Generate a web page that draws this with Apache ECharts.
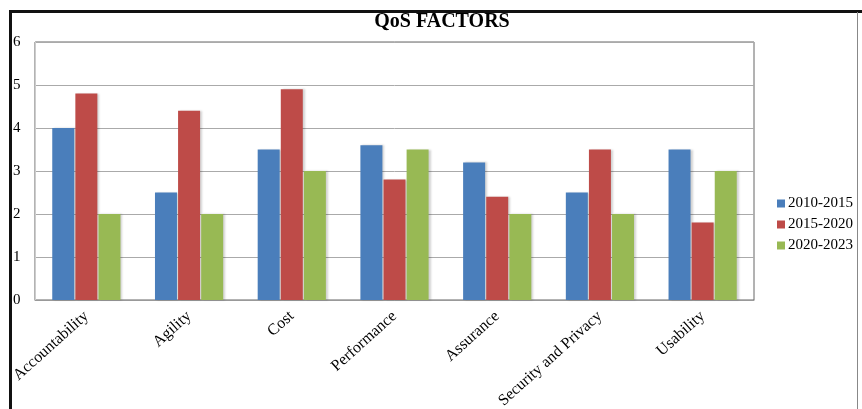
<!DOCTYPE html>
<html>
<head>
<meta charset="utf-8">
<script src="https://cdn.jsdelivr.net/npm/echarts@6/dist/echarts.min.js"></script>
<style>
  html, body { margin: 0; padding: 0; background: #fff; }
  #main { width: 862px; height: 409px; }
</style>
</head>
<body>
<div id="main"></div>
<script>
// 数据
var categories = ['Accountability', 'Agility', 'Cost', 'Performance', 'Assurance', 'Security and Privacy', 'Usability'];
var s2010 = [4, 2.5, 3.5, 3.6, 3.2, 2.5, 3.5];
var s2015 = [4.8, 4.4, 4.9, 2.8, 2.4, 3.5, 1.8];
var s2020 = [2, 2, 3, 3.5, 2, 2, 3];
var seriesNames = ['2010-2015', '2015-2020', '2020-2023'];

var serif = '"Liberation Serif", "DejaVu Serif", serif';
var myChart = echarts.init(document.getElementById('main'));

function bar(name, data) {
  return {
    name: name,
    type: 'bar',
    barWidth: 22,
    barGap: '5%',
    data: data,
    itemStyle: {
      shadowColor: 'rgba(0,0,0,0.18)',
      shadowBlur: 2,
      shadowOffsetX: 2,
      shadowOffsetY: 0
    }
  };
}

myChart.setOption({
  animation: false,
  backgroundColor: '#fff',
  color: ['#4a7ebb', '#be4b48', '#98b954'],
  title: {
    text: 'QoS FACTORS',
    left: 437,
    textAlign: 'center',
    top: 7,
    textStyle: { fontFamily: serif, fontSize: 20, fontWeight: 'bold', color: '#000' }
  },
  legend: {
    orient: 'vertical',
    left: 772,
    top: 191,
    icon: 'rect',
    itemWidth: 8,
    itemHeight: 8,
    itemGap: 6,
    textStyle: { fontFamily: serif, fontSize: 15, color: '#000', padding: [0, 0, 0, -2] },
    data: seriesNames
  },
  grid: {
    left: 35,
    top: 42,
    right: 108,
    bottom: 109,
    outerBoundsMode: 'none',
    containLabel: false,
    show: true,
    borderColor: '#666',
    borderWidth: 1
  },
  xAxis: {
    type: 'category',
    data: categories,
    axisTick: { show: false },
    axisLine: { lineStyle: { color: '#999' } },
    axisLabel: {
      interval: 0,
      rotate: 42,
      margin: 14,
      fontFamily: serif,
      fontSize: 16,
      color: '#000'
    }
  },
  yAxis: {
    type: 'value',
    min: 0,
    max: 6,
    interval: 1,
    axisLine: { show: true, lineStyle: { color: '#ccc' } },
    axisTick: { show: false },
    axisLabel: {
      align: 'left',
      margin: 22,
      fontFamily: serif,
      fontSize: 15,
      color: '#000'
    },
    splitLine: { lineStyle: { color: '#aaa' } }
  },
  graphic: [
    { type: 'rect', shape: { x: 9, y: 10, width: 853, height: 3 }, style: { fill: '#111' } },
    { type: 'rect', shape: { x: 9, y: 10, width: 3, height: 399 }, style: { fill: '#111' } },
    { type: 'rect', shape: { x: 857, y: 12, width: 1, height: 397 }, style: { fill: '#888' } }
  ],
  series: [
    bar(seriesNames[0], s2010),
    bar(seriesNames[1], s2015),
    bar(seriesNames[2], s2020)
  ]
});
</script>
</body>
</html>
